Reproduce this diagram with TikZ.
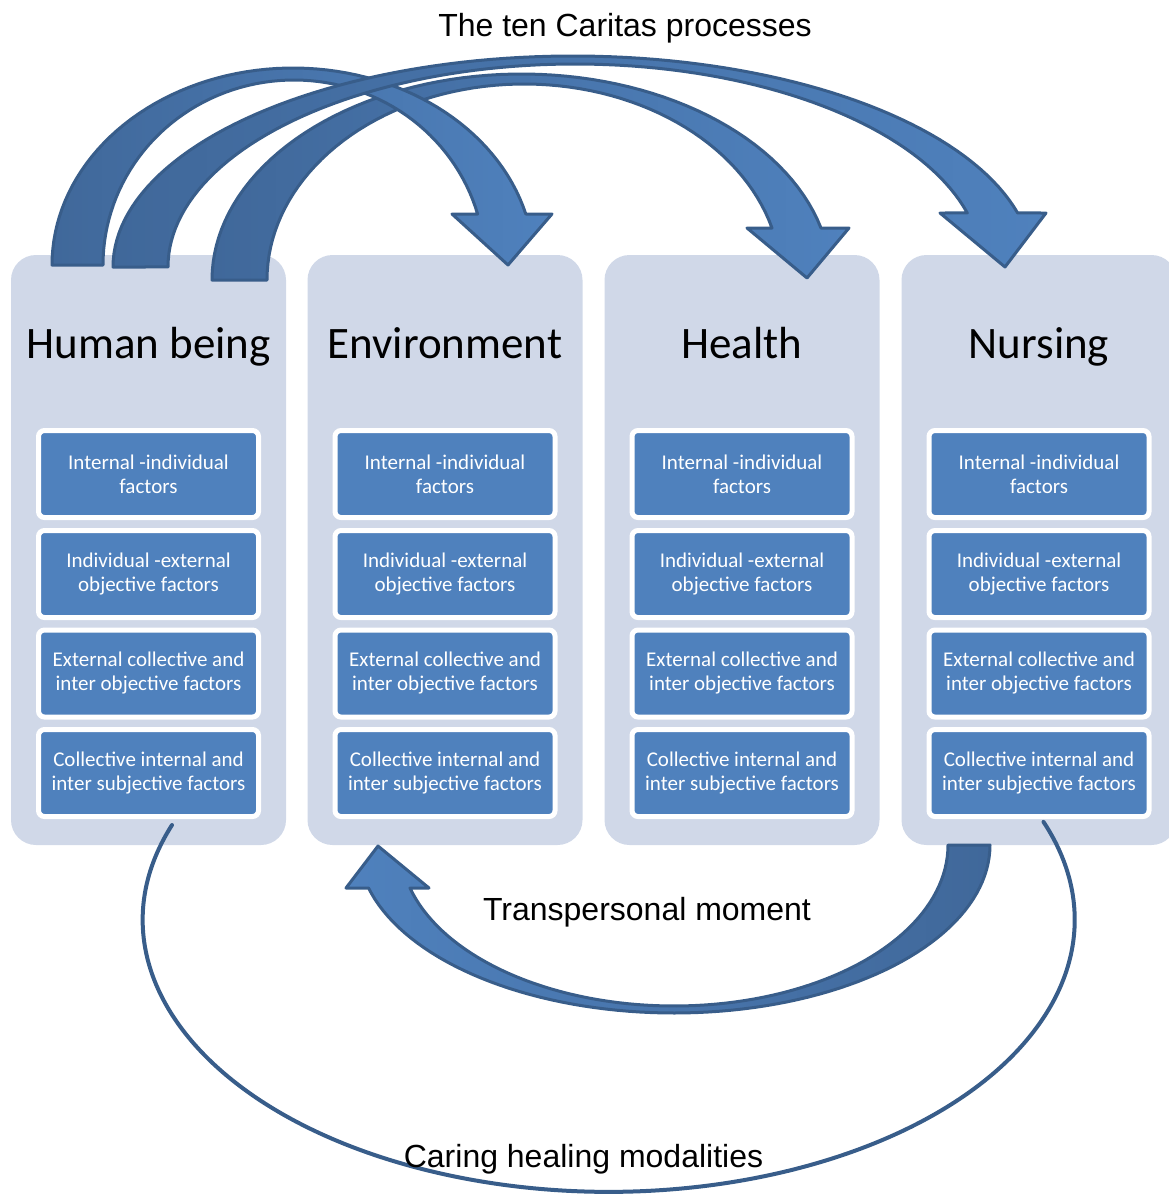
\documentclass[tikz,border=0pt]{standalone}
\usepackage{fontspec}
\setmainfont{Carlito}
\newfontfamily\arialf{Liberation Sans}
\definecolor{colbg}{RGB}{208,216,232}
\definecolor{boxblue}{RGB}{79,129,189}
\definecolor{adark}{RGB}{64,104,154}
\definecolor{alight}{RGB}{79,129,189}
\definecolor{aline}{RGB}{56,93,138}
\begin{document}
\begin{tikzpicture}[x=1pt,y=-1pt,
  column/.style={fill=colbg, draw=none, rounded corners=25pt, minimum width=275pt, minimum height=590pt, inner sep=0pt},
  heading/.style={font=\fontsize{45}{54}\selectfont, anchor=base, inner sep=0pt},
  factor/.style={fill=boxblue, draw=white, line width=5pt, rounded corners=6pt, minimum width=220pt, minimum height=87pt, inner sep=0pt, align=center, text=white, font=\fontsize{21}{24}\selectfont},
  label/.style={font=\arialf\fontsize{32}{38}\selectfont, anchor=base, inner sep=0pt},
  bigarrow/.style={draw=aline, line width=3pt, line join=round},
  loopline/.style={draw=aline, line width=4pt, line cap=round}
]
\useasboundingbox (0,0) rectangle (1168,1196);

% columns
\foreach \i/\cx in {1/148.5,2/445,3/742,4/1039}{
  \node[column] (col\i) at (\cx,550) {};
}
\node[heading] (h1) at (148.5,358) {Human being};
\node[heading] (h2) at (445,358) {Environment};
\node[heading] (h3) at (742,358) {Health};
\node[heading] (h4) at (1039,358) {Nursing};

\foreach \i/\cx in {1/148.5,2/445,3/742,4/1039}{
  \node[factor] (b\i1) at (\cx,474) {Internal -individual\\factors};
  \node[factor] (b\i2) at (\cx,574) {Individual -external\\objective factors};
  \node[factor] (b\i3) at (\cx,673.5) {External collective and\\inter objective factors};
  \node[factor] (b\i4) at (\cx,773) {Collective internal and\\inter subjective factors};
}

% caring healing loop
\coordinate (e1) at (172,825);
\draw[loopline] (e1) arc[start angle=200.4, end angle=-21.1, x radius=466, y radius=272] coordinate (e2);

% arrow to Health
\shadedraw[bigarrow, left color=adark, right color=alight]
  plot[domain=0:165.38, samples=70] ({521.5+309.5*cos(180-\x)},{280-206*sin(180-\x)})
  -- (849,228) -- (807,278) -- (747,228)
  -- plot[domain=15.38:180, samples=70] ({524.1+257.1*cos(\x)},{280-196*sin(\x)})
  -- cycle;

% arrow to Environment
\shadedraw[bigarrow, left color=adark, right color=alight]
  plot[domain=0:165, samples=70] ({293+241*cos(180-\x)},{265-197*sin(180-\x)})
  -- (552,214) -- (508,265) -- (452,214)
  -- plot[domain=16:180, samples=70] ({294+191*cos(\x)},{265-185*sin(\x)})
  -- cycle;

% arrow to Nursing
\shadedraw[bigarrow, left color=adark, right color=alight]
  plot[domain=0:165.17, samples=90] ({573+460*cos(180-\x)},{267-211*sin(180-\x)})
  -- (1046,213) -- (1005,267) -- (940,213)
  -- plot[domain=15.43:180, samples=90] ({575+407*cos(\x)},{267-203*sin(\x)})
  -- cycle;

% transpersonal moment arrow
\shadedraw[bigarrow, left color=alight, right color=adark]
  plot[domain=0:165.17, samples=80] ({674+316*cos(\x)},{845+168*sin(\x)})
  -- (346,888) -- (378,846) -- (429,888)
  -- plot[domain=0:164.51, samples=80] ({674+274*cos(164.51-\x)},{845+161*sin(164.51-\x)})
  -- cycle;

% labels
\node[label] (t1) at (625,37) {The ten Caritas processes};
\node[label] (t2) at (647,920) {Transpersonal moment};
\node[label] (t3) at (583.5,1167) {Caring healing modalities};
\end{tikzpicture}
\end{document}
